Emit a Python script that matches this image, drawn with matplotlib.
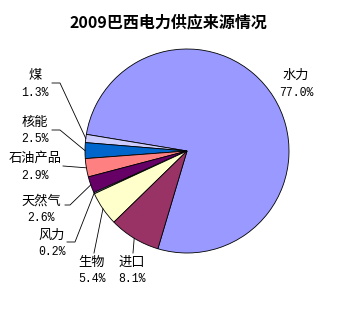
import numpy as np
import matplotlib
matplotlib.use("Agg")
import matplotlib.pyplot as plt

plt.rcParams['font.family'] = ['Noto Sans CJK SC', 'DejaVu Sans']

title = "2009巴西电力供应来源情况"
labels = ['水力', '煤', '核能', '石油产品', '天然气', '风力', '生物', '进口']
values = [77.0, 1.3, 2.5, 2.9, 2.6, 0.2, 5.4, 8.1]
colors = ['#9999FF', '#CCCCFF', '#0066CC', '#FF8080', '#660066', '#CCFFFF', '#FFFFCC', '#993366']

W, H = 337, 316
fig = plt.figure(figsize=(W / 100, H / 100), dpi=100)
ax = fig.add_axes([0, 0, 1, 1])

def Y(y):
    return H - y

cx, cy, R = 187, 151, 102
wedges, _ = ax.pie(values, colors=colors, startangle=253.4, counterclock=True,
                   center=(cx, Y(cy)), radius=R,
                   wedgeprops=dict(edgecolor='black', linewidth=0.6))
ax.set_xlim(0, W)
ax.set_ylim(0, H)
ax.axis('off')

# label layout: (text x, name y, pct y, elbow points list in px)
layout = {
    '水力': (296, 75, 93, None),
    '煤': (35, 75, 93, [(60, 83), (52, 83)]),
    '核能': (35, 122, 139, [(60, 130), (52, 130)]),
    '石油产品': (35, 158, 176, [(63, 166)]),
    '天然气': (41, 201, 218, [(70, 205), (65, 205)]),
    '风力': (52, 235, 252, [(75, 242), (67, 242)]),
    '生物': (92, 262, 279, [(94, 253)]),
    '进口': (132, 262, 279, [(133, 253)]),
}

for w, lab, v in zip(wedges, labels, values):
    tx, ny, py, elbow = layout[lab]
    ax.text(tx, Y(ny), lab, ha='center', va='center', fontsize=9.5, color='black')
    ax.text(tx, Y(py), f"{v:.1f}%", ha='center', va='center', fontsize=8.3,
            family=['Liberation Mono', 'DejaVu Sans Mono'], color='black')
    if elbow:
        mid = np.deg2rad((w.theta1 + w.theta2) / 2)
        x0 = cx + R * np.cos(mid)
        y0 = Y(cy) + R * np.sin(mid)
        xs = [x0] + [p[0] for p in elbow]
        ys = [y0] + [Y(p[1]) for p in elbow]
        ax.plot(xs, ys, color='black', lw=0.6)

ax.text(168, Y(22), title, ha='center', va='center', fontsize=11.5, fontweight='bold')

fig.savefig('out.png', dpi=100, facecolor='white')
